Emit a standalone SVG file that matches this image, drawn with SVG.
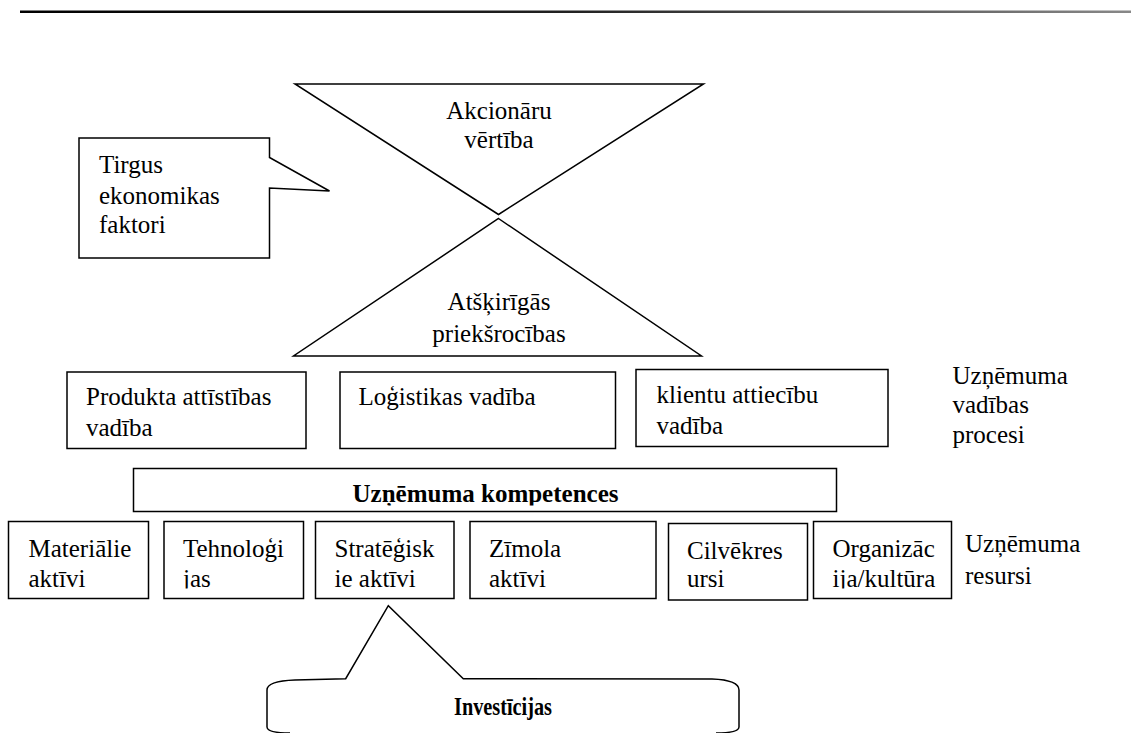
<svg xmlns="http://www.w3.org/2000/svg" width="1131" height="733" viewBox="0 0 1131 733">
<style>
.box{fill:#fff;stroke:#000;stroke-width:1.5}
.shape{fill:#fff;stroke:#000;stroke-width:1.5;stroke-linejoin:miter}
.t{font-family:"Liberation Serif","Times New Roman",serif;font-size:25px;fill:#000}
.b{font-weight:bold}
.m{text-anchor:middle}
</style>
<defs>
<linearGradient id="lineGrad" x1="0" y1="0" x2="1" y2="0">
<stop offset="0" stop-color="#000"/>
<stop offset="0.5" stop-color="#222"/>
<stop offset="1" stop-color="#888"/>
</linearGradient>
<clipPath id="clipRes"><rect x="0" y="500" width="1131" height="88.5"/></clipPath>
<clipPath id="clipComp"><rect x="130" y="465" width="710" height="40.5"/></clipPath>
<clipPath id="clipInv"><rect x="260" y="680" width="490" height="41"/></clipPath>
</defs>
<rect x="0" y="0" width="1131" height="733" fill="#fff"/>
<rect x="20" y="10.5" width="1111" height="2.5" fill="url(#lineGrad)"/>

<g id="callout-tirgus">
<path class="shape" d="M79,138 H269.5 V157.5 L329.5,191 L269.5,188 V258 H79 Z"/>
<text class="t" x="99" y="172.5">Tirgus</text>
<text class="t" x="99" y="203.5">ekonomikas</text>
<text class="t" x="99" y="233">faktori</text>
</g>

<g id="akcionaru-vertiba">
<path class="shape" d="M295,84 H703.5 L498.5,214.5 Z"/>
<text class="t m" x="499" y="118.5">Akcionāru</text>
<text class="t m" x="499" y="148">vērtība</text>
</g>

<g id="atskirigas-prieksrocibas">
<path class="shape" d="M498.5,218.5 L701.5,356 H293.5 Z"/>
<text class="t m" x="499" y="310">Atšķirīgās</text>
<text class="t m" x="499" y="341.5">priekšrocības</text>
</g>

<g id="produkta-attistibas">
<rect class="box" x="67" y="372" width="239" height="76.5"/>
<text class="t" x="86" y="405">Produkta attīstības</text>
<text class="t" x="86" y="436">vadība</text>
</g>

<g id="logistikas-vadiba">
<rect class="box" x="340" y="372" width="275.5" height="76.5"/>
<text class="t" x="358.5" y="405">Loģistikas vadība</text>
</g>

<g id="klientu-attiecibu">
<rect class="box" x="636" y="369.5" width="252" height="77"/>
<text class="t" x="656.5" y="403">klientu attiecību</text>
<text class="t" x="656.5" y="434">vadība</text>
</g>

<g id="label-procesi">
<text class="t" x="952.5" y="383.5">Uzņēmuma</text>
<text class="t" x="952.5" y="413">vadības</text>
<text class="t" x="952.5" y="443">procesi</text>
</g>

<g id="uznemuma-kompetences">
<rect class="box" x="133.5" y="468.5" width="703" height="43"/>
<text class="t b m" x="485.5" y="501.5" clip-path="url(#clipComp)">Uzņēmuma kompetences</text>
</g>

<g id="materialie-aktivi">
<rect class="box" x="8.5" y="521.5" width="140" height="77"/>
<text class="t" x="28.5" y="556.5">Materiālie</text>
<text class="t" x="28.5" y="586.5" clip-path="url(#clipRes)">aktīvi</text>
</g>

<g id="tehnologijas">
<rect class="box" x="164" y="521.5" width="139.5" height="77"/>
<text class="t" x="183" y="556.5">Tehnoloģi</text>
<text class="t" x="183" y="586.5" clip-path="url(#clipRes)">jas</text>
</g>

<g id="strategiskie-aktivi">
<rect class="box" x="315.5" y="521.5" width="138.5" height="77"/>
<text class="t" x="334.5" y="556.5">Stratēģisk</text>
<text class="t" x="334.5" y="586.5" clip-path="url(#clipRes)">ie aktīvi</text>
</g>

<g id="zimola-aktivi">
<rect class="box" x="470" y="521.5" width="186" height="77"/>
<text class="t" x="489" y="556.5">Zīmola</text>
<text class="t" x="489" y="586.5" clip-path="url(#clipRes)">aktīvi</text>
</g>

<g id="cilvekresursi">
<rect class="box" x="668.5" y="523.5" width="139" height="76.5"/>
<text class="t" x="687" y="558.5">Cilvēkres</text>
<text class="t" x="687" y="587" clip-path="url(#clipRes)">ursi</text>
</g>

<g id="organizacija-kultura">
<rect class="box" x="813.5" y="521.5" width="138" height="77"/>
<text class="t" x="832.5" y="556.5">Organizāc</text>
<text class="t" x="832.5" y="586.5" clip-path="url(#clipRes)">ija/kultūra</text>
</g>

<g id="label-resursi">
<text class="t" x="965" y="551.5">Uzņēmuma</text>
<text class="t" x="965" y="583.5">resursi</text>
</g>

<g id="investicijas">
<path class="shape" d="M290,733 Q267,733 267,727 V690 Q267,681 295,680 L345.7,678.7 L388.3,605.7 L463.3,678.7 L712,679 Q739,680 739,690 V727 Q739,733 716,733"/>
<text class="t b m" x="503" y="715" textLength="98" lengthAdjust="spacingAndGlyphs" clip-path="url(#clipInv)">Investīcijas</text>
</g>

<g id="connectors"></g>
</svg>
